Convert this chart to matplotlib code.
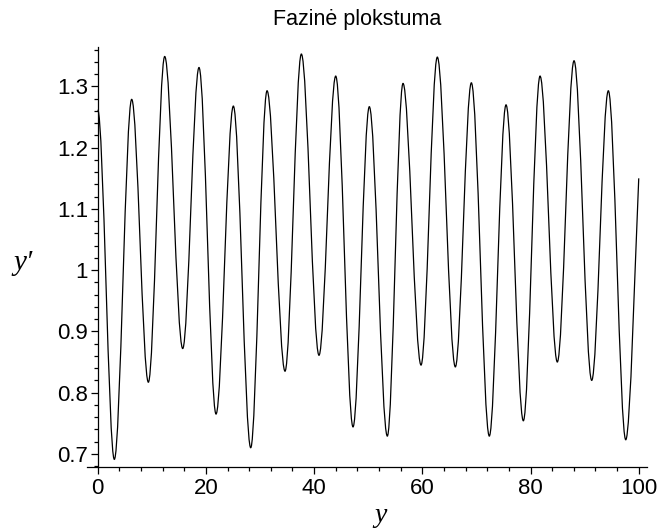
import matplotlib
matplotlib.use("Agg")
import matplotlib.pyplot as plt
from matplotlib.path import Path
from matplotlib.patches import PathPatch
from matplotlib.ticker import MultipleLocator, FuncFormatter

# start point, alternating troughs / peaks, end point
curve_x = [0.0, 3.07, 6.28, 9.36, 12.38, 15.71, 18.72, 21.87, 25.07, 28.28,
           31.30, 34.62, 37.64, 40.90, 43.99, 47.19, 50.20, 53.53, 56.43,
           59.76, 62.77, 66.10, 69.06, 72.38, 75.47, 78.67, 81.76, 84.95,
           88.04, 91.31, 94.38, 97.60, 100.0]
curve_y = [1.262, 0.691, 1.279, 0.817, 1.349, 0.872, 1.331, 0.765, 1.268,
           0.710, 1.293, 0.835, 1.353, 0.861, 1.317, 0.744, 1.267, 0.729,
           1.305, 0.845, 1.348, 0.842, 1.306, 0.729, 1.270, 0.754, 1.317,
           0.850, 1.342, 0.820, 1.293, 0.723, 1.150]

x_ticks = [0, 20, 40, 60, 80, 100]
y_ticks = [0.7, 0.8, 0.9, 1.0, 1.1, 1.2, 1.3]

title = "Fazinė plokstuma"
x_label = "y"
y_label = "y\u2032"

W, H = 658, 528
fig = plt.figure(figsize=(W / 100, H / 100), dpi=100)
ax = fig.add_axes([86.9 / W, 1 - 466.7 / H, 560.5 / W, 420.0 / H])
ax.set_xlim(-2.0, 101.6)
ax.set_ylim(0.679, 1.365)

# smooth curve: cubic Bezier between successive extrema (flat tangents there)
verts = [(curve_x[0], curve_y[0])]
codes = [Path.MOVETO]
n = len(curve_x)
for i in range(n - 1):
    xa, ya = curve_x[i], curve_y[i]
    xb, yb = curve_x[i + 1], curve_y[i + 1]
    dx = xb - xa
    c1 = (xa + 0.34 * dx, ya)
    if i == n - 2:
        # last point is mid-rise, not an extremum
        c2 = (xb - 0.25 * dx, yb - 0.27 * (yb - ya))
    else:
        c2 = (xb - 0.34 * dx, yb)
    verts += [c1, c2, (xb, yb)]
    codes += [Path.CURVE4] * 3
ax.add_patch(PathPatch(Path(verts, codes), fill=False, edgecolor="black",
                       lw=0.9, transform=ax.transData))

for s in ("top", "right"):
    ax.spines[s].set_visible(False)
ax.spines["left"].set_position(("data", 0))
for s in ("left", "bottom"):
    ax.spines[s].set_linewidth(0.9)

ax.set_xticks(x_ticks)
ax.set_yticks(y_ticks)
ax.xaxis.set_minor_locator(MultipleLocator(4))
ax.yaxis.set_minor_locator(MultipleLocator(0.02))
ax.yaxis.set_major_formatter(FuncFormatter(lambda v, p: "%g" % round(v, 2)))
ax.tick_params(which="major", length=5, width=0.9, labelsize=16, pad=2,
               direction="out")
ax.tick_params(which="minor", length=3, width=0.9, direction="out")
for lab in ax.get_xticklabels() + ax.get_yticklabels():
    lab.set_family("Liberation Sans")
ax.tick_params(axis="x", pad=3)

fig.text(357 / W, 1 - 20 / H, title, ha="center", va="center",
         family="Liberation Sans", fontsize=15.5)
fig.text(23 / W, 1 - 263 / H, y_label, ha="center", va="center",
         family=["Liberation Serif", "DejaVu Serif"], style="italic",
         fontsize=21)
fig.text(380 / W, 1 - 503 / H, x_label, ha="center", va="top",
         family="Liberation Serif", style="italic", fontsize=20)

fig.savefig("out.png", dpi=100, facecolor="white")
plt.close(fig)
